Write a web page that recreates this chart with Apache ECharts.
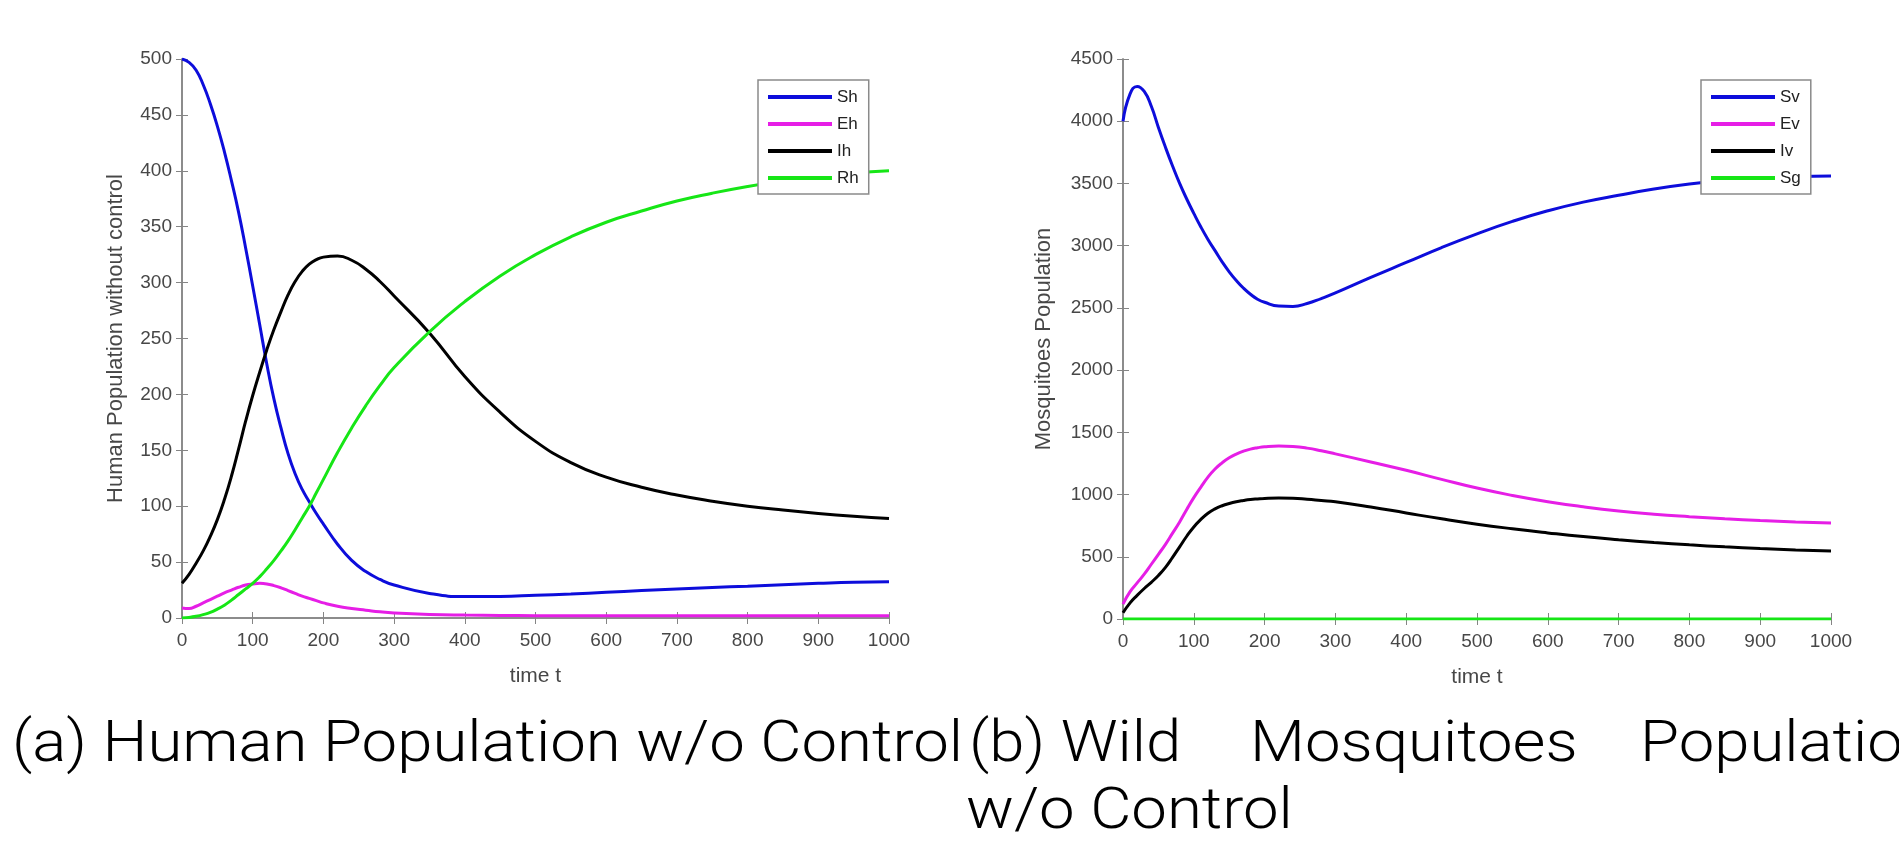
<!DOCTYPE html>
<html lang="en">
<head>
<meta charset="UTF-8">
<title>Population without control</title>
<style>
    html, body { margin: 0; padding: 0; background: #fff; }
    #chart { width: 1899px; height: 844px; }
</style>
<script src="https://cdn.jsdelivr.net/npm/echarts@6/dist/echarts.min.js"></script>
</head>
<body>
<div id="chart"></div>
<script>
    // sample times (shared by all curves)
    var t = [0, 10, 20, 30, 40, 50, 60, 70, 80, 90, 100, 110, 120, 130, 140, 150, 160, 170, 180, 190,
             200, 220, 240, 260, 280, 300, 350, 400, 450, 500, 550, 600, 650, 700, 750, 800, 850, 900, 950, 1000];

    // (a) human population
    var Sh = [500, 497, 490, 477, 460, 440, 417, 391, 363, 331, 297, 262, 227, 196, 170, 147, 129, 115, 104, 93.5,
              84, 66, 51.5, 41.5, 34.5, 29.5, 22, 19.2, 19.3, 20.3, 21.5, 23, 24.5, 26, 27.3, 28.5, 29.8, 31, 32, 32.5];
    var Eh = [9, 8.5, 10.5, 13.5, 16.5, 19.5, 22.5, 25, 27.5, 29.5, 30.5, 31, 30.5, 29, 27, 24.5, 22, 19.5, 17.5, 15.5,
              13.5, 10.5, 8.5, 7, 5.5, 4.5, 3.2, 2.6, 2.3, 2.1, 2, 2, 2, 2, 2, 2, 2, 2, 2, 2];
    var Ih = [31, 39, 49, 60, 73, 88, 106, 127, 151, 176, 199, 220, 240, 258, 274, 289, 301, 310, 316.5, 320.5,
              322.8, 323.8, 320, 312, 301, 288, 255, 216, 184, 158, 139, 126, 117, 110, 104.5, 100, 96.5, 93.5, 91, 89];
    var Rh = [0, 0.5, 1.5, 3, 5, 8, 11.5, 16, 21, 26, 31, 37, 44, 51.5, 60, 69, 79, 89.5, 100, 112,
              124, 148, 170, 190, 208, 224, 256, 283, 306, 325, 341, 354, 364, 373, 380, 386, 391, 395, 398, 400];

    // (b) wild mosquitoes population
    var Sv = [4000, 4220, 4280, 4240, 4120, 3950, 3790, 3640, 3500, 3375, 3260, 3150, 3050, 2960, 2870, 2790, 2720, 2660, 2610, 2570,
              2545, 2515, 2512, 2535, 2575, 2620, 2745, 2865, 2985, 3095, 3195, 3280, 3350, 3405, 3455, 3495, 3525, 3545, 3555, 3560];
    var Ev = [120, 220, 290, 360, 440, 520, 600, 690, 780, 880, 975, 1060, 1140, 1205, 1255, 1295, 1325, 1348, 1365, 1376,
              1384, 1390, 1386, 1373, 1352, 1327, 1262, 1195, 1122, 1052, 993, 943, 902, 868, 842, 822, 805, 791, 780, 772];
    var Iv = [50, 130, 190, 245, 295, 350, 415, 495, 580, 665, 740, 800, 850, 885, 910, 928, 942, 952, 960, 965,
              969, 972, 970, 962, 952, 942, 900, 852, 805, 762, 725, 692, 662, 637, 615, 596, 580, 566, 555, 546];
    var Sg = [0, 0, 0, 0, 0, 0, 0, 0, 0, 0, 0, 0, 0, 0, 0, 0, 0, 0, 0, 0,
              0, 0, 0, 0, 0, 0, 0, 0, 0, 0, 0, 0, 0, 0, 0, 0, 0, 0, 0, 0];

    var namesH = ['Sh', 'Eh', 'Ih', 'Rh'];
    var namesV = ['Sv', 'Ev', 'Iv', 'Sg'];
    var colors = ['#0d0ddb', '#e61ee6', '#000000', '#16e616'];

    var chart = echarts.init(document.getElementById('chart'));

    var axisGray = '#858585';
    var labelGray = '#474747';
    var tickFont = '"Liberation Sans", Arial, sans-serif';

    function pairs(ys) {
        return t.map(function (x, i) { return [x, ys[i]]; });
    }

    function plain(v) { return String(v); } // no thousands separator

    function xAxisFor(grid, top) {
        return {
            type: 'value', gridIndex: grid, position: top ? 'top' : 'bottom',
            min: 0, max: 1000, interval: 100,
            name: top ? '' : 'time t', nameLocation: 'middle', nameGap: 48,
            nameTextStyle: { fontSize: 21, color: labelGray, fontFamily: tickFont },
            axisLine: { show: true, lineStyle: { color: axisGray, width: 1.5 } },
            axisTick: { show: true, inside: true, length: 6, lineStyle: { color: axisGray } },
            axisLabel: { show: !top, fontSize: 19, color: labelGray, margin: 13, fontFamily: tickFont, formatter: plain },
            splitLine: { show: false }
        };
    }

    function yAxisFor(grid, right, max, step, name, gap) {
        return {
            type: 'value', gridIndex: grid, position: right ? 'right' : 'left',
            min: 0, max: max, interval: step,
            name: right ? '' : name, nameLocation: 'middle', nameGap: gap, nameRotate: 90,
            nameTextStyle: { fontSize: 22, color: labelGray, fontFamily: tickFont },
            axisLine: { show: true, lineStyle: { color: axisGray, width: 1.5 } },
            axisTick: { show: true, inside: true, length: 6, lineStyle: { color: axisGray } },
            axisLabel: { show: !right, fontSize: 19, color: labelGray, margin: 10, fontFamily: tickFont, formatter: plain },
            splitLine: { show: false }
        };
    }

    function lineSeries(name, ys, idx, k) {
        return {
            name: name, type: 'line', data: pairs(ys),
            xAxisIndex: idx, yAxisIndex: idx,
            showSymbol: false, symbol: 'none',
            smooth: 0.5,
            lineStyle: { color: colors[k], width: 3 },
            itemStyle: { color: colors[k] }
        };
    }

    function legendFor(names, left) {
        return {
            data: names, orient: 'vertical', left: left, top: 80,
            icon: 'rect', itemWidth: 64, itemHeight: 4, itemGap: 7,
            padding: [7, 10, 6, 10],
            backgroundColor: '#fff', borderColor: '#8a8a8a', borderWidth: 1.5,
            textStyle: { fontSize: 17, lineHeight: 20, color: '#222', fontFamily: tickFont },
            selectedMode: false
        };
    }

    // caption text, squeezed horizontally like the LaTeX subcaptions
    var capFont = '300 58px Roboto, "Noto Sans", sans-serif';
    var ctx = document.createElement('canvas').getContext('2d');
    ctx.font = capFont;
    var capScale = 951 / ctx.measureText('(a) Human Population w/o Control').width;

    function caption(str, x, y) {
        return {
            type: 'text', x: x, y: y, scaleX: capScale, silent: true,
            style: {
                text: str, font: capFont, fill: '#000',
                verticalAlign: 'middle', textVerticalAlign: 'middle'
            }
        };
    }

    var option = {
        animation: false,
        backgroundColor: '#fff',
        grid: [
            { left: 182, top: 59, width: 707, height: 559 },
            { left: 1123, top: 59, width: 708, height: 560 }
        ],
        xAxis: [xAxisFor(0, false), xAxisFor(0, true), xAxisFor(1, false), xAxisFor(1, true)],
        yAxis: [
            yAxisFor(0, false, 500, 50, 'Human Population without control', 55),
            yAxisFor(0, true, 500, 50, '', 0),
            yAxisFor(1, false, 4500, 500, 'Mosquitoes Population', 68),
            yAxisFor(1, true, 4500, 500, '', 0)
        ],
        legend: [legendFor(namesH, 758), legendFor(namesV, 1701)],
        series: [
            lineSeries('Sh', Sh, 0, 0),
            lineSeries('Eh', Eh, 0, 1),
            lineSeries('Ih', Ih, 0, 2),
            lineSeries('Rh', Rh, 0, 3),
            lineSeries('Sv', Sv, 2, 0),
            lineSeries('Ev', Ev, 2, 1),
            lineSeries('Iv', Iv, 2, 2),
            lineSeries('Sg', Sg, 2, 3)
        ],
        graphic: [
            caption('(a) Human Population w/o Control', 12, 746),
            caption('(b) Wild', 969, 746),
            caption('Mosquitoes', 1250, 746),
            caption('Population', 1640, 746),
            caption('w/o Control', 966, 813)
        ]
    };

    chart.setOption(option);
</script>
</body>
</html>
